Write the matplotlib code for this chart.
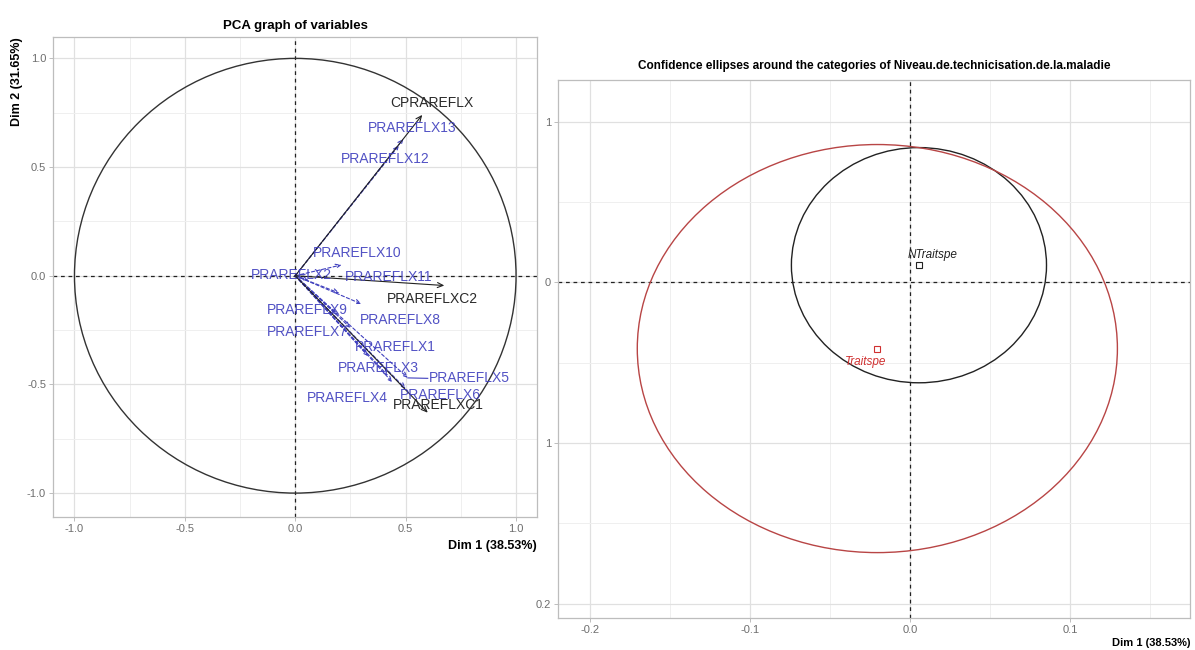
import numpy as np
import matplotlib
matplotlib.use("Agg")
import matplotlib.pyplot as plt
from matplotlib.patches import Ellipse, Circle

plt.rcParams["font.family"] = ["Liberation Sans", "DejaVu Sans"]

# -----------------------------
# Data: PCA graph of variables
# -----------------------------
active_names = ["CPRAREFLX", "PRAREFLXC2", "PRAREFLXC1"]
active_x = [0.575, 0.675, 0.600]
active_y = [0.740, -0.045, -0.630]
active_lab_x = [0.620, 0.620, 0.647]
active_lab_y = [0.793, -0.108, -0.595]

sup_names = ["PRAREFLX1", "PRAREFLX2", "PRAREFLX3", "PRAREFLX4", "PRAREFLX5",
             "PRAREFLX6", "PRAREFLX7", "PRAREFLX8", "PRAREFLX9", "PRAREFLX10",
             "PRAREFLX11", "PRAREFLX12", "PRAREFLX13"]
sup_x = [0.33, 0.06, 0.42, 0.44, 0.51, 0.50, 0.25, 0.30, 0.19, 0.21, 0.20, 0.47, 0.49]
sup_y = [-0.37, -0.02, -0.46, -0.49, -0.47, -0.52, -0.24, -0.13, -0.18, 0.05, -0.08, 0.60, 0.63]
sup_lab_x = [0.455, -0.016, 0.376, 0.235, 0.790, 0.655, 0.055, 0.478, 0.054, 0.279, 0.424, 0.406, 0.530]
sup_lab_y = [-0.329, 0.002, -0.425, -0.563, -0.472, -0.549, -0.260, -0.205, -0.159, 0.103, -0.007, 0.536, 0.678]

dim1_label = "Dim 1 (38.53%)"
dim2_label = "Dim 2 (31.65%)"

# -----------------------------
# Data: confidence ellipses
# -----------------------------
cat_names = ["NTraitspe", "Traitspe"]
cat_x = [0.0055, -0.0205]
cat_y = [0.0107, -0.0412]
cat_lab_x = [0.0140, -0.0279]
cat_lab_y = [0.0168, -0.0497]
ell_half_w = [0.0797, 0.1500]
ell_half_h = [0.0732, 0.1270]
cat_colors = ["#222222", "#D03030"]
ell_colors = ["#222222", "#B84545"]

right_xticks = [-0.2, -0.1, 0.0, 0.1]
right_xticklabels = ["-0.2", "-0.1", "0.0", "0.1"]
right_yticks = [-0.2, -0.1, 0.0, 0.1]
right_yticklabels = ["0.2", "1", "0", "1"]

BLUE = "#3F3FBE"
GRID_MAJOR = "#E0E0E0"
GRID_MINOR = "#EFEFEF"
BORDER = "#BDBDBD"
TICKTXT = "#6E6E6E"


def style_axes(ax):
    ax.set_facecolor("white")
    ax.grid(True, which="major", color=GRID_MAJOR, lw=0.9, zorder=0)
    ax.grid(True, which="minor", color=GRID_MINOR, lw=0.7, zorder=0)
    ax.set_axisbelow(True)
    for s in ax.spines.values():
        s.set_color(BORDER)
        s.set_linewidth(0.9)
    ax.tick_params(which="major", length=3, width=0.7, color=BORDER,
                   labelsize=8, labelcolor=TICKTXT, pad=2)
    ax.tick_params(which="minor", length=0)


fig = plt.figure(figsize=(11.95, 6.5), dpi=100)

# -----------------------------
# Left: PCA graph of variables
# -----------------------------
ax1 = fig.add_axes([0.0444, 0.2046, 0.405, 0.738])
style_axes(ax1)
ax1.set_xlim(-1.097, 1.095)
ax1.set_ylim(-1.11, 1.097)
ax1.set_xticks([-1.0, -0.5, 0.0, 0.5, 1.0])
ax1.set_yticks([-1.0, -0.5, 0.0, 0.5, 1.0])
ax1.set_xticks(np.arange(-0.75, 1.0, 0.5), minor=True)
ax1.set_yticks(np.arange(-0.75, 1.0, 0.5), minor=True)
ax1.set_xticklabels(["-1.0", "-0.5", "0.0", "0.5", "1.0"])
ax1.set_yticklabels(["-1.0", "-0.5", "0.0", "0.5", "1.0"])

ax1.axhline(0, color="#222222", ls=(0, (3, 3)), lw=0.9, zorder=1)
ax1.axvline(0, color="#222222", ls=(0, (3, 3)), lw=0.9, zorder=1)
ax1.add_patch(Circle((0, 0), 1, fill=False, ec="#333333", lw=1.0, zorder=2))

for x, y in zip(sup_x, sup_y):
    ax1.annotate("", xy=(x, y), xytext=(0, 0),
                 arrowprops=dict(arrowstyle="->,head_length=0.35,head_width=0.15",
                                 color=BLUE, lw=0.8, ls=(0, (3, 2)),
                                 shrinkA=0, shrinkB=0), zorder=3)
for x, y in zip(active_x, active_y):
    ax1.annotate("", xy=(x, y), xytext=(0, 0),
                 arrowprops=dict(arrowstyle="->,head_length=0.4,head_width=0.18",
                                 color="#222222", lw=0.8,
                                 shrinkA=0, shrinkB=0), zorder=3)

# connector for the label moved away from its arrow
i5 = sup_names.index("PRAREFLX5")
ax1.plot([sup_x[i5], sup_lab_x[i5] - 0.19], [sup_y[i5], sup_lab_y[i5]],
         color=BLUE, lw=0.8, zorder=3)

for name, x, y in zip(sup_names, sup_lab_x, sup_lab_y):
    ax1.text(x, y, name, color=BLUE, fontsize=10, ha="center", va="center",
             alpha=0.9, zorder=4)
for name, x, y in zip(active_names, active_lab_x, active_lab_y):
    ax1.text(x, y, name, color="#2A2A2A", fontsize=10, ha="center", va="center",
             zorder=4)

ax1.set_title("PCA graph of variables", fontsize=9.5, fontweight="bold", pad=6)
ax1.set_xlabel(dim1_label, fontsize=9, fontweight="bold", loc="right", labelpad=4)
ax1.set_ylabel(dim2_label, fontsize=9, fontweight="bold", loc="top", labelpad=3)

# -----------------------------
# Right: confidence ellipses
# -----------------------------
ax2 = fig.add_axes([0.467, 0.049, 0.529, 0.828])
style_axes(ax2)
ax2.set_xlim(-0.22, 0.175)
ax2.set_ylim(-0.209, 0.126)
ax2.set_xticks(right_xticks)
ax2.set_xticklabels(right_xticklabels)
ax2.set_yticks(right_yticks)
ax2.set_yticklabels(right_yticklabels)
ax2.set_xticks([-0.15, -0.05, 0.05, 0.15], minor=True)
ax2.set_yticks([-0.15, -0.05, 0.05], minor=True)

ax2.axhline(0, color="#222222", ls=(0, (3, 3)), lw=0.9, zorder=1)
ax2.axvline(0, color="#222222", ls=(0, (3, 3)), lw=0.9, zorder=1)

for i in range(len(cat_names)):
    ax2.add_patch(Ellipse((cat_x[i], cat_y[i]), 2 * ell_half_w[i], 2 * ell_half_h[i],
                          fill=False, ec=ell_colors[i], lw=1.0, zorder=2))
    ax2.plot(cat_x[i], cat_y[i], marker="s", ms=4, mfc="none", mec=cat_colors[i],
             mew=0.8, ls="none", zorder=3)
    ax2.text(cat_lab_x[i], cat_lab_y[i], cat_names[i], color=cat_colors[i],
             fontsize=8.5, style="italic", ha="center", va="center", zorder=4)

ax2.set_title("Confidence ellipses around the categories of "
              "Niveau.de.technicisation.de.la.maladie",
              fontsize=8.5, fontweight="bold", pad=8)
ax2.set_xlabel(dim1_label, fontsize=8, fontweight="bold", loc="right", labelpad=2)

fig.savefig("out.png", dpi=100, facecolor="white")
